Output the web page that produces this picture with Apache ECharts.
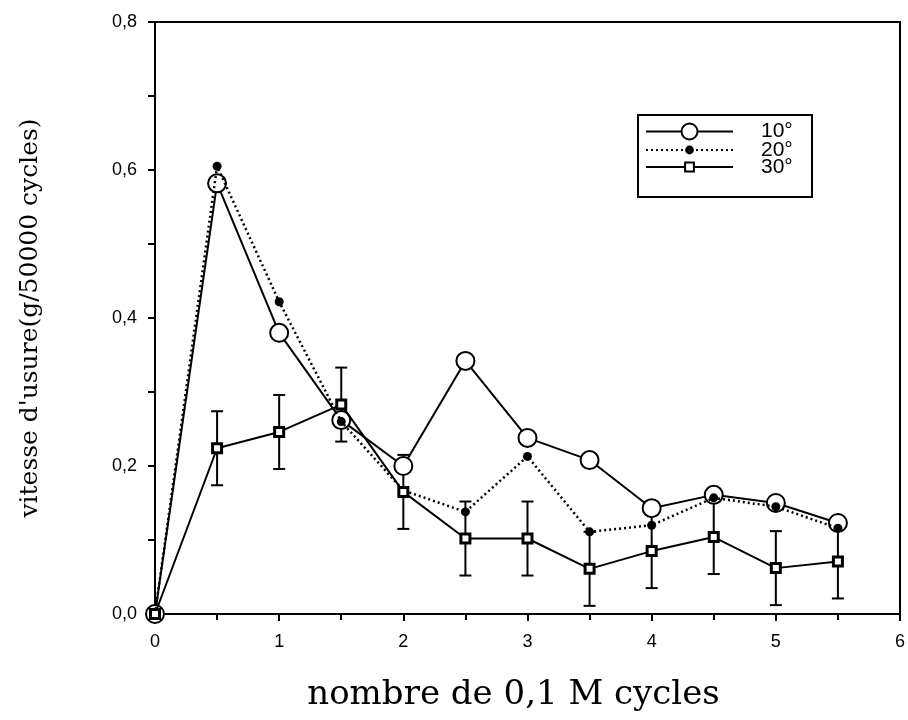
<!DOCTYPE html>
<html>
<head>
<meta charset="utf-8">
<script src="https://cdn.jsdelivr.net/npm/echarts@6/dist/echarts.min.js"></script>
<style>html,body{margin:0;padding:0;background:#fff}#c{width:908px;height:720px}</style>
</head>
<body>
<div id="c"></div>
<script>
var xValues = [0, 0.5, 1, 1.5, 2, 2.5, 3, 3.5, 4, 4.5, 5, 5.5];
var s10 = [0, 0.582, 0.380, 0.262, 0.200, 0.342, 0.238, 0.208, 0.143, 0.161, 0.150, 0.123];
var s20 = [0, 0.605, 0.422, 0.260, 0.167, 0.138, 0.213, 0.111, 0.120, 0.157, 0.145, 0.116];
var s30 = [0, 0.224, 0.246, 0.283, 0.165, 0.102, 0.102, 0.061, 0.085, 0.104, 0.062, 0.071];
var err30 = [0, 0.05, 0.05, 0.05, 0.05, 0.05, 0.05, 0.05, 0.05, 0.05, 0.05, 0.05];
var seriesNames = ['10°', '20°', '30°'];
var xTitle = 'nombre de 0,1 M cycles';
var yTitle = "vitesse d'usure(g/50000 cycles)";

function pairs(v) { return xValues.map(function (x, i) { return [x, v[i]]; }); }
var errData = xValues.map(function (x, i) { return [x, s30[i] - err30[i], s30[i] + err30[i]]; })
  .filter(function (d, i) { return err30[i] > 0; });

var chart = echarts.init(document.getElementById('c'), null, { renderer: 'canvas' });
var labelFont = { fontFamily: 'Liberation Sans, Arial, sans-serif', fontSize: 18, color: '#000' };
var legendText = { fontFamily: 'Liberation Sans, Arial, sans-serif', fontSize: 21, color: '#000', padding: [0, 0, 0, 23] };
function oneLegend(name, top, h) {
  return {
    orient: 'vertical', left: 645, top: top, data: [name],
    itemWidth: 87, itemHeight: h, padding: 0, z: 6,
    selectedMode: false,
    textStyle: legendText
  };
}
chart.setOption({
  animation: false,
  backgroundColor: '#fff',
  grid: { left: 155, right: 2, top: 22, bottom: 106, show: true, borderColor: '#000', borderWidth: 2, backgroundColor: 'transparent' },
  graphic: [{
    type: 'rect', left: 637, top: 114, z: 5,
    shape: { width: 174, height: 82 },
    style: { fill: '#fff', stroke: '#000', lineWidth: 2 }
  }],
  xAxis: {
    type: 'value', min: 0, max: 6, interval: 1,
    name: xTitle, nameLocation: 'middle', nameGap: 64,
    nameTextStyle: { fontFamily: 'DejaVu Serif, serif', fontSize: 34, color: '#000', padding: [0, 28, 0, 0] },
    axisLine: { lineStyle: { color: '#000', width: 2 } },
    axisTick: { show: true, inside: false, length: 7, lineStyle: { color: '#000', width: 2 } },
    minorTick: { show: true, splitNumber: 2, length: 6, lineStyle: { color: '#000', width: 2 } },
    splitLine: { show: false },
    axisLabel: Object.assign({ margin: 19 }, labelFont)
  },
  yAxis: {
    type: 'value', min: 0, max: 0.8, interval: 0.2,
    name: yTitle, nameLocation: 'middle', nameGap: 112, nameRotate: 90,
    nameTextStyle: { fontFamily: 'DejaVu Serif, serif', fontSize: 25, color: '#000' },
    axisLine: { lineStyle: { color: '#000', width: 2 } },
    axisTick: { show: true, inside: false, length: 7, lineStyle: { color: '#000', width: 2 } },
    minorTick: { show: true, splitNumber: 2, length: 7, lineStyle: { color: '#000', width: 2 } },
    splitLine: { show: false },
    axisLabel: Object.assign({ margin: 18, formatter: function (v) { return v.toFixed(1).replace('.', ','); } }, labelFont)
  },
  legend: [
    oneLegend(seriesNames[0], 121, 20),
    oneLegend(seriesNames[1], 139.5, 11),
    oneLegend(seriesNames[2], 156.5, 11)
  ],
  series: [
    {
      name: seriesNames[0], type: 'line', data: pairs(s10), z: 3,
      symbol: 'circle', symbolSize: 18,
      lineStyle: { color: '#000', width: 2 },
      itemStyle: { color: '#fff', borderColor: '#000', borderWidth: 2 }
    },
    {
      name: seriesNames[1], type: 'line', data: pairs(s20), z: 4,
      symbol: 'circle', symbolSize: 9,
      lineStyle: { color: '#000', width: 2.5, type: [2, 3] },
      itemStyle: { color: '#000', borderColor: '#000', borderWidth: 0 }
    },
    {
      name: seriesNames[2], type: 'line', data: pairs(s30), z: 5,
      symbol: 'rect', symbolSize: 9,
      lineStyle: { color: '#000', width: 2 },
      itemStyle: { color: '#fff', borderColor: '#000', borderWidth: 3 }
    },
    {
      name: 'err', type: 'custom', z: 2,
      data: errData,
      renderItem: function (params, api) {
        var lo = api.coord([api.value(0), api.value(1)]);
        var hi = api.coord([api.value(0), api.value(2)]);
        var hw = 6;
        var st = { stroke: '#000', lineWidth: 2 };
        return {
          type: 'group', children: [
            { type: 'line', shape: { x1: lo[0], y1: lo[1], x2: hi[0], y2: hi[1] }, style: st },
            { type: 'line', shape: { x1: lo[0] - hw, y1: lo[1], x2: lo[0] + hw, y2: lo[1] }, style: st },
            { type: 'line', shape: { x1: hi[0] - hw, y1: hi[1], x2: hi[0] + hw, y2: hi[1] }, style: st }
          ]
        };
      }
    }
  ]
});
</script>
</body>
</html>
